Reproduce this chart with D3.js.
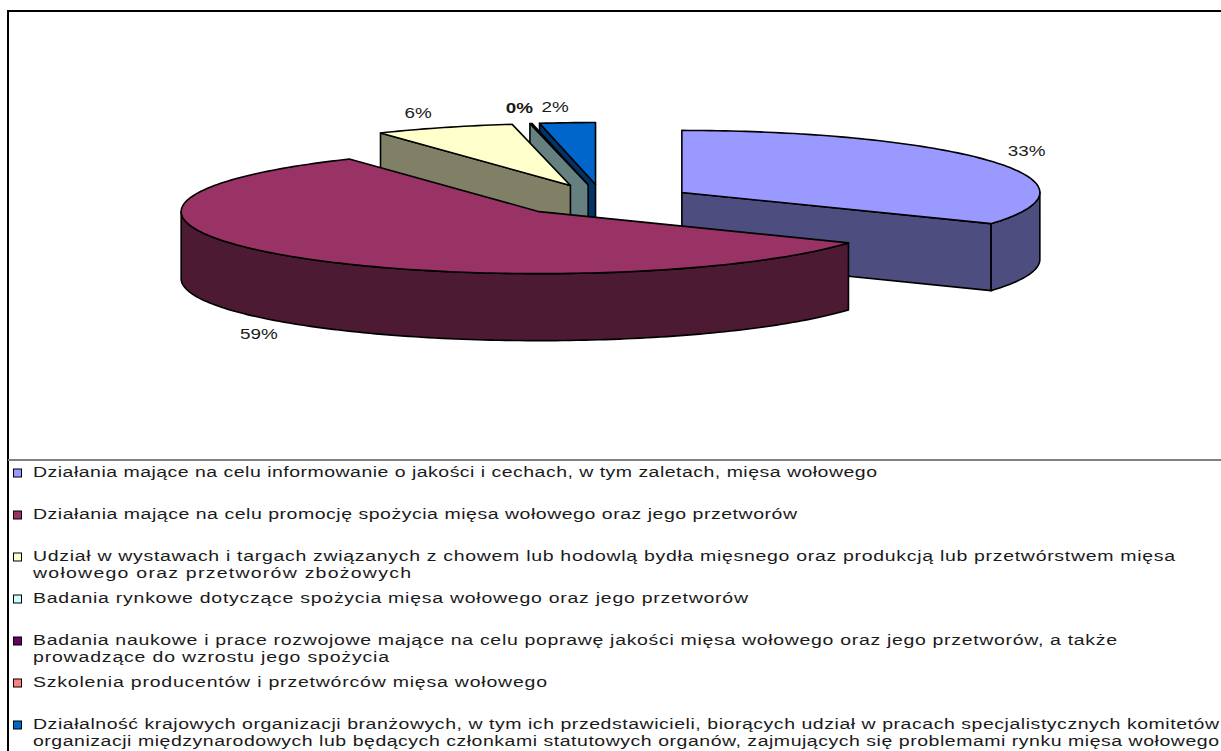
<!DOCTYPE html>
<html>
<head>
<meta charset="utf-8">
<script src="https://cdn.jsdelivr.net/npm/d3@7"></script>
<style>
  html, body { margin: 0; padding: 0; background: #fff; overflow: hidden; }
  text { font-family: "Liberation Sans", Arial, sans-serif; fill: #1a1a1a; }
</style>
</head>
<body>
<svg id="chart" width="1221" height="751"></svg>
<script>
// Chart data
var shares = [33.4, 57.7, 6.3, 0.1, 0, 0, 2.5];
var shareLabels = ["33%", "59%", "6%", "0%", "0%", "0%", "2%"];
var sliceColors = ["#9999ff", "#993366", "#ffffcc", "#ccffff", "#660066", "#ff8080", "#0066cc"];
var legendLines = [
  ["Działania mające na celu informowanie o jakości i cechach, w tym zaletach, mięsa wołowego"],
  ["Działania mające na celu promocję spożycia mięsa wołowego oraz jego przetworów"],
  ["Udział w wystawach i targach związanych z chowem lub hodowlą bydła mięsnego oraz produkcją lub przetwórstwem mięsa", "wołowego oraz przetworów zbożowych"],
  ["Badania rynkowe dotyczące spożycia mięsa wołowego oraz jego przetworów"],
  ["Badania naukowe i prace rozwojowe mające na celu poprawę jakości mięsa wołowego oraz jego przetworów, a także", "prowadzące do wzrostu jego spożycia"],
  ["Szkolenia producentów i przetwórców mięsa wołowego"],
  ["Działalność krajowych organizacji branżowych, w tym ich przedstawicieli, biorących udział w pracach specjalistycznych komitetów", "organizacji międzynarodowych lub będących członkami statutowych organów, zajmujących się problemami rynku mięsa wołowego"]
];
// where each legend line ends in the picture
var legendLineEnds = [[877], [797], [1175, 411], [748], [1117, 389], [547], [1219, 1219]];

// Pie geometry
var cx = 602.7, cy = 200.3, rx = 358, ry = 62, depth = 67, explode = 0.255;
// back to front
var paintOrder = [6, 5, 4, 3, 2, 0, 1];
// Excel pushed the labels around a bit
var labelNudge = { 0: [-2, -3], 1: [-2, -1], 2: [-11, 0], 3: [-5, 0], 6: [-9, 0] };
var textStretch = 1.3;
var legendLeft = 33;

var svg = d3.select("#chart");

var pie = d3.pie().sort(null).value(function (d) { return d; });
var slices = pie(shares);

function darker(c) {
  var r = d3.rgb(c);
  return d3.rgb(r.r * 0.5, r.g * 0.5, r.b * 0.5).formatHex();
}

function center(s) {
  var mid = (s.startAngle + s.endAngle) / 2;
  return {
    x: cx + rx * explode * Math.sin(mid),
    y: cy - ry * explode * Math.cos(mid)
  };
}

function rim(c, t, dy) {
  return [c.x + rx * Math.sin(t), c.y - ry * Math.cos(t) + (dy || 0)];
}

function arcPoints(c, a, b, dy) {
  var n = Math.max(2, Math.ceil(Math.abs(b - a) / 0.02));
  return d3.range(n + 1).map(function (i) {
    return rim(c, a + (b - a) * i / n, dy);
  });
}

var line = d3.line();
var pieG = svg.append("g").attr("stroke", "#000").attr("stroke-width", 1.6).attr("stroke-linejoin", "round");

function face(pts, fill) {
  pieG.append("path").attr("d", line(pts) + "Z").attr("fill", fill);
}

paintOrder.forEach(function (i) {
  var s = slices[i];
  if (s.value <= 0) return;
  var c = center(s);
  var col = sliceColors[i];
  var wall = darker(col);
  var a0 = s.startAngle, a1 = s.endAngle;

  // cut face on the start side
  if (Math.sin(a0) < -1e-6) {
    var p0 = rim(c, a0);
    face([[c.x, c.y], p0, [p0[0], p0[1] + depth], [c.x, c.y + depth]], wall);
  }
  // cut face on the end side
  if (Math.sin(a1) > 1e-6) {
    var p1 = rim(c, a1);
    face([[c.x, c.y], p1, [p1[0], p1[1] + depth], [c.x, c.y + depth]], wall);
  }
  // outer wall, front half of the ellipse only
  var w0 = Math.max(a0, Math.PI / 2), w1 = Math.min(a1, Math.PI * 1.5);
  if (w1 > w0) {
    face(arcPoints(c, w0, w1).concat(arcPoints(c, w1, w0, depth)), wall);
  }
  // top
  face([[c.x, c.y]].concat(arcPoints(c, a0, a1)), col);
});

// Percent labels. The three 0% labels sit on one spot, so they print once in bold
var labelRx = 400, labelRy = 78;
var labelG = svg.append("g").attr("font-size", 14.5).attr("text-anchor", "middle");
slices.forEach(function (s, i) {
  if (i === 4 || i === 5) return;
  var c = center(s);
  var mid = (s.startAngle + s.endAngle) / 2;
  var n = labelNudge[i] || [0, 0];
  var front = Math.cos(mid) < 0;
  var lx = c.x + labelRx * Math.sin(mid) + n[0];
  var ly = c.y - labelRy * Math.cos(mid) + (front ? depth : 0) + n[1] + 5;
  labelG.append("text")
    .attr("transform", "translate(" + lx + "," + ly + ") scale(" + textStretch + ",1)")
    .attr("font-weight", i === 3 ? "bold" : "normal")
    .text(shareLabels[i]);
});

// Frame
svg.append("path")
  .attr("d", "M8,751V11H1221")
  .attr("fill", "none")
  .attr("stroke", "#000")
  .attr("stroke-width", 2);
svg.append("line")
  .attr("x1", 8).attr("x2", 1221).attr("y1", 460).attr("y2", 460)
  .attr("stroke", "#808080").attr("stroke-width", 2);

// Legend
var rowY = d3.scalePoint().domain(d3.range(legendLines.length)).range([473, 725]);
var legend = svg.append("g");
legendLines.forEach(function (lines, i) {
  var y = rowY(i);
  legend.append("rect")
    .attr("x", 13.5).attr("y", y - 4)
    .attr("width", 8).attr("height", 8)
    .attr("fill", sliceColors[i])
    .attr("stroke", "#000").attr("stroke-width", 1);
  lines.forEach(function (t, j) {
    legend.append("text")
      .attr("transform", "translate(" + legendLeft + "," + (y + 3.5 + j * 17.5) + ") scale(" + textStretch + ",1)")
      .attr("font-size", 15)
      .attr("textLength", (legendLineEnds[i][j] - legendLeft) / textStretch)
      .attr("lengthAdjust", "spacing")
      .text(t);
  });
});
</script>
</body>
</html>
